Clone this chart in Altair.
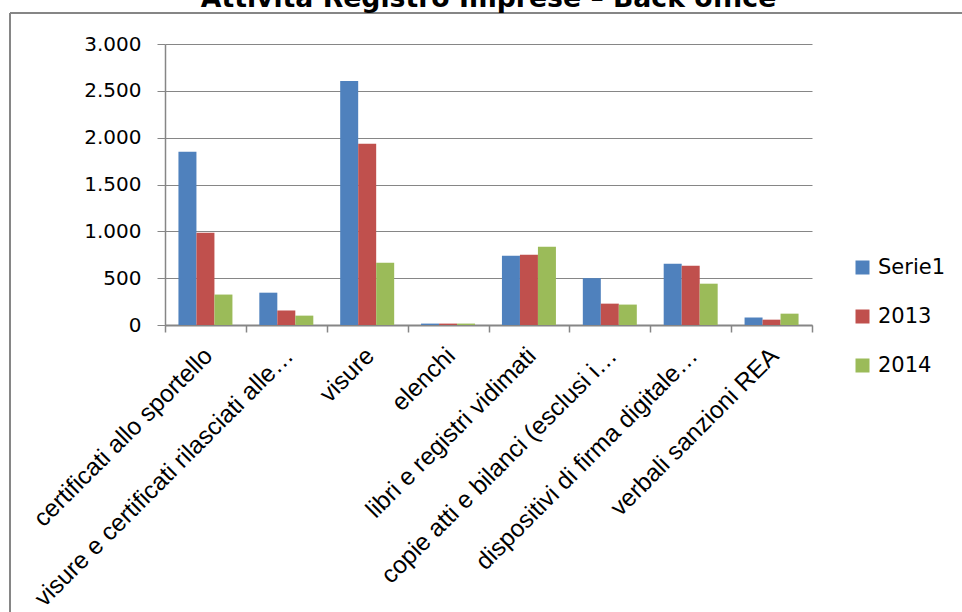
import altair as alt
import pandas as pd

# Categories of the back-office activity and the three series
categories = [
    "certificati allo sportello",
    "visure e certificati rilasciati alle…",
    "visure",
    "elenchi",
    "libri e registri vidimati",
    "copie atti e bilanci  (esclusi i…",
    "dispositivi di firma digitale…",
    "verbali sanzioni REA",
]
series_names = ["Serie1", "2013", "2014"]
serie1 = [1850, 345, 2605, 15, 740, 500, 655, 80]
values_2013 = [985, 155, 1935, 15, 750, 228, 633, 57]
values_2014 = [325, 100, 665, 15, 836, 218, 441, 121]
series_colors = ["#4F81BD", "#C0504D", "#9BBB59"]
y_ticks = [0, 500, 1000, 1500, 2000, 2500, 3000]
title_text = "Attività Registro Imprese – Back office"

rows = []
for name, vals in zip(series_names, [serie1, values_2013, values_2014]):
    for cat, v in zip(categories, vals):
        rows.append({"categoria": cat, "serie": name, "valore": v})
df = pd.DataFrame(rows)
one = pd.DataFrame({"k": [0]})

W, H = 647, 281
GRAY = "#868686"

bars = alt.Chart(df).mark_bar().encode(
    x=alt.X(
        "categoria:N",
        sort=categories,
        title=None,
        scale=alt.Scale(paddingInner=0, paddingOuter=0),
        axis=alt.Axis(
            labelAngle=-45,
            labelAlign="right",
            labelBaseline="middle",
            labelFont="Liberation Sans",
            labelFontSize=24.5,
            labelColor="#000000",
            labelPadding=20,
            labelOffset=3,
            labelLimit=0,
            tickBand="extent",
            tickSize=7,
            tickWidth=1.5,
            tickColor=GRAY,
            domainColor=GRAY,
            domainWidth=2,
            grid=False,
        ),
    ),
    # gap around each group of three bars inside its category slot
    xOffset=alt.XOffset(
        "serie:N",
        sort=series_names,
        scale=alt.Scale(paddingInner=0, paddingOuter=0.747),
    ),
    y=alt.Y(
        "valore:Q",
        title=None,
        scale=alt.Scale(domain=[0, 3000], nice=False),
        axis=alt.Axis(
            values=y_ticks,
            labelExpr="replace(format(datum.value, ','), ',', '.')",
            labelFont="DejaVu Sans",
            labelFontSize=20,
            labelColor="#000000",
            labelPadding=16,
            tickSize=8,
            tickWidth=1,
            tickColor=GRAY,
            domainColor=GRAY,
            domainWidth=1.5,
            gridColor=GRAY,
            gridWidth=1,
        ),
    ),
    color=alt.Color(
        "serie:N",
        sort=series_names,
        scale=alt.Scale(domain=series_names, range=series_colors),
        legend=alt.Legend(
            title=None,
            orient="none",
            legendX=687,
            legendY=213,
            symbolType="square",
            symbolSize=196,
            symbolStrokeWidth=0,
            labelFont="DejaVu Sans",
            labelFontSize=21,
            labelColor="#000000",
            labelOffset=5,
            rowPadding=27,
        ),
    ),
)

# Chart-area frame (top and left edges)
frame_top = alt.Chart(one).mark_rule(color=GRAY, strokeWidth=2).encode(
    x=alt.value(-155), x2=alt.value(820), y=alt.value(-31)
)
frame_left = alt.Chart(one).mark_rule(color=GRAY, strokeWidth=2).encode(
    x=alt.value(-155), y=alt.value(-31), y2=alt.value(600)
)

title = alt.Chart(one).mark_text(
    text=title_text,
    font="DejaVu Sans",
    fontWeight="bold",
    fontSize=26.7,
    align="center",
    baseline="alphabetic",
    color="#000000",
).encode(x=alt.value(W / 2), y=alt.value(-37))

chart = (
    alt.layer(frame_top, frame_left, bars, title)
    .properties(
        width=W,
        height=H,
        autosize=alt.AutoSizeParams(type="none"),
        padding={"left": 165, "top": 44, "right": 150, "bottom": 287},
        background="white",
    )
    .configure_view(stroke=None)
)

chart.save("out.html", embed_options={"renderer": "svg", "actions": False})
